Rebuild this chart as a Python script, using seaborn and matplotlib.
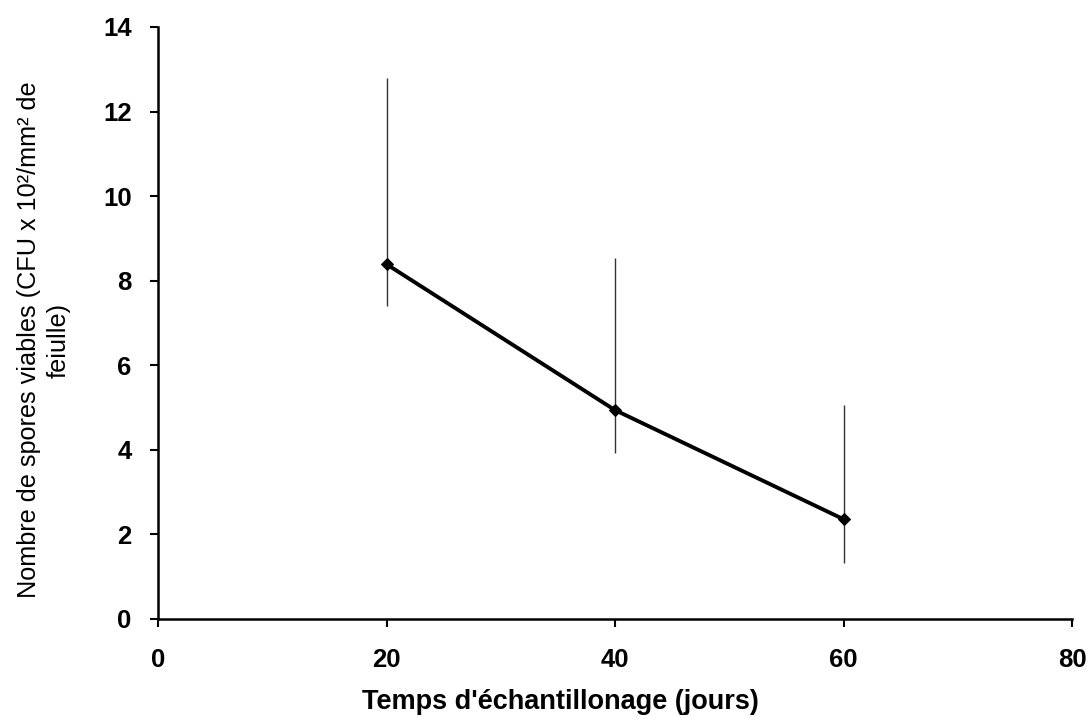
import matplotlib
matplotlib.use("Agg")
import matplotlib.pyplot as plt
import seaborn as sns
import pandas as pd
import numpy as np

days = [20, 40, 60]
spores = [8.39, 4.94, 2.36]
err_low = [0.99, 1.01, 1.04]
err_high = [4.40, 3.60, 2.70]

x_ticks = [0, 20, 40, 60, 80]
y_ticks = [0, 2, 4, 6, 8, 10, 12, 14]

sns.set_theme(style="ticks")
plt.rcParams['font.family'] = ['Liberation Sans', 'DejaVu Sans']
plt.rcParams['axes.labelcolor'] = 'black'
plt.rcParams['text.color'] = 'black'

df = pd.DataFrame({"days": days, "spores": spores})

fig = plt.figure(figsize=(10.91, 7.18), dpi=100)
ax = fig.add_axes([158/1091, 1-619/718, (1072-158)/1091, (619-27)/718])

ax.errorbar(days, spores, yerr=[err_low, err_high], fmt='none', ecolor='#333333',
            elinewidth=1.0, capsize=0, zorder=2)
sns.lineplot(data=df, x="days", y="spores", ax=ax, color='black', linewidth=2.8,
             marker='D', markersize=6.5, markeredgecolor='black', zorder=3)

ax.set_xlim(0, 80)
ax.set_ylim(0, 14)
ax.set_xticks(x_ticks)
ax.set_yticks(y_ticks)
ax.tick_params(axis='both', direction='out', length=6, width=1.5, labelsize=18.5, colors='black')
for lab in ax.get_xticklabels() + ax.get_yticklabels():
    lab.set_fontweight('bold')
ax.tick_params(axis='x', pad=15)
ax.tick_params(axis='y', pad=13)
for s in ['left', 'bottom']:
    ax.spines[s].set_linewidth(1.8)
    ax.spines[s].set_color('black')
sns.despine(ax=ax)

ax.set_xlabel("Temps d'échantillonage (jours)", fontsize=19.5, fontweight='bold', color='black')
ax.xaxis.set_label_coords((560-158)/914, -0.118)
ax.set_ylabel("Nombre de spores viables (CFU x 10²/mm² de\nfeiulle)", fontsize=18.2,
              linespacing=1.3, color='black')
ax.yaxis.set_label_coords(-0.096, 0.471)

fig.savefig("out.png", dpi=100)
